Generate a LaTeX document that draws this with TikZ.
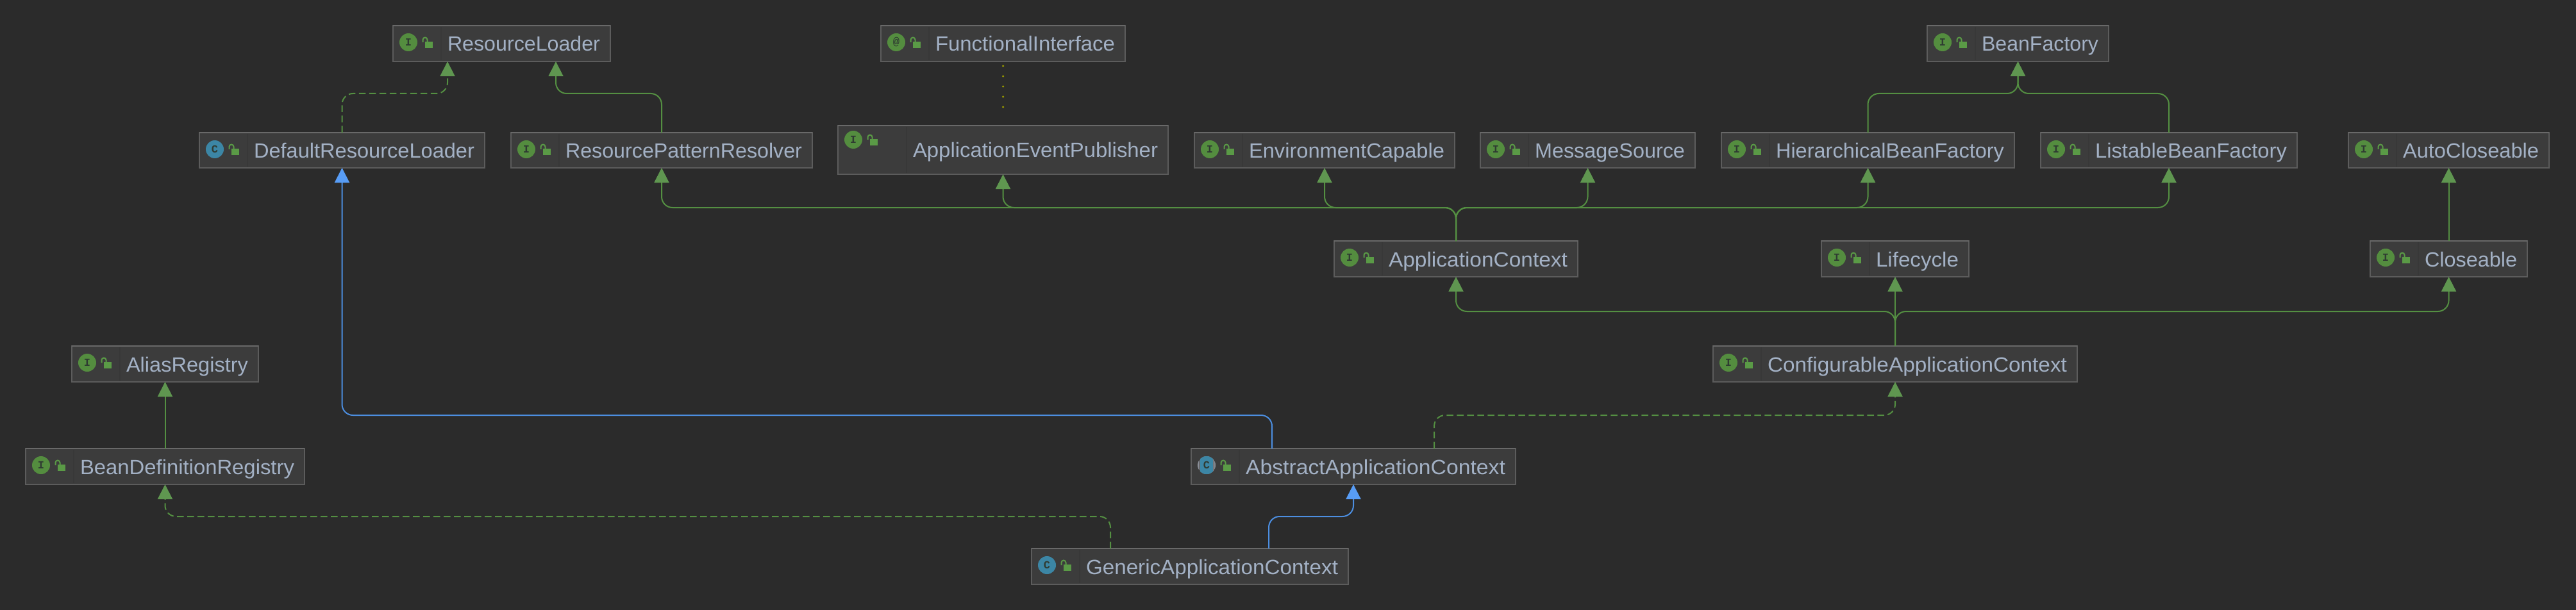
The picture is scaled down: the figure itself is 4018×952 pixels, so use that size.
\documentclass[tikz,border=0pt]{standalone}
\usepackage{graphicx}
\usepackage{fontspec}
\setmainfont{Liberation Sans}
\newfontfamily\iconfont{Liberation Mono}
\usetikzlibrary{arrows.meta,calc}
\definecolor{bgc}{HTML}{2B2B2B}
\definecolor{boxfill}{HTML}{3C3C3C}
\definecolor{boxline}{HTML}{5C5C5C}
\definecolor{boxtop}{HTML}{696969}
\definecolor{divc}{HTML}{383838}
\definecolor{labelc}{HTML}{A3B1C5}
\definecolor{greenline}{HTML}{548F42}
\definecolor{greentip}{HTML}{5F9650}
\definecolor{blueline}{HTML}{4C8EE0}
\definecolor{bluetip}{HTML}{589DF6}
\definecolor{dotc}{HTML}{9A9A00}
\definecolor{icongreen}{HTML}{548D3F}
\definecolor{iconteal}{HTML}{3C86A5}
\definecolor{icongrey}{HTML}{8B9099}
\definecolor{iconink}{HTML}{2F3B32}
\definecolor{lockc}{HTML}{5A9A46}
\tikzset{
  x=1pt,y=-1pt,
  clsbox/.style={draw=boxline,fill=boxfill,line width=1.5pt,inner sep=0pt,outer sep=0pt,
    text=labelc,font=\fontsize{32.2pt}{36pt}\selectfont,text height=24pt,text depth=0pt},
  topedge/.style={draw=boxtop,line width=2.5pt},
  divider/.style={draw=divc,line width=1.5pt},
  iconmark/.style={circle,inner sep=0pt,minimum size=28pt,outer sep=0pt,
    text=iconink,font=\iconfont\bfseries\fontsize{17pt}{17pt}\selectfont},
  lockshackle/.style={draw=lockc,line width=2pt},
  conn/.style={line width=2pt,rounded corners=17pt},
  inhg/.style={conn,draw=greenline,-{Triangle[length=23pt,width=23pt,color=greentip]}},
  implg/.style={inhg,dash pattern=on 10.5pt off 5.5pt},
  inhb/.style={conn,draw=blueline,-{Triangle[length=23pt,width=23pt,color=bluetip]}},
  annot/.style={draw=dotc,line width=3.5pt,line cap=round,dash pattern=on 0pt off 16pt},
}
% #1 name, #2 kind (I,C,A,@), #3 left, #4 top, #5 right, #6 bottom, #7 text, #8 divider offset, #9 icon centre offset from top
\newcommand{\clsnode}[9]{%
  \pgfmathsetmacro{\boxW}{#5-#3}%
  \pgfmathsetmacro{\boxH}{#6-#4}%
  \pgfmathsetmacro{\boxCx}{(#3+#5)/2}%
  \pgfmathsetmacro{\boxCy}{(#4+#6)/2}%
  \pgfmathsetmacro{\textX}{#8+10}%
  \pgfmathsetmacro{\textW}{#5-#3-#8-10-16}%
  \pgfmathsetmacro{\iconX}{#3+24}%
  \pgfmathsetmacro{\iconY}{#4+#9}%
  \pgfmathsetmacro{\divX}{#3+#8}%
  \node[clsbox,minimum width=\boxW pt,minimum height=\boxH pt] (#1) at (\boxCx,\boxCy)
    {\makebox[\boxW pt][l]{\hspace*{\textX pt}\resizebox{\textW pt}{\height}{#7}}};
  \draw[divider] (\divX,#4+2) -- (\divX,#6-2);
  \draw[topedge] (#1.north west) -- (#1.north east);
  \ifx#2A
    \fill[icongrey] (\iconX,\iconY) circle[radius=14];
    \begin{scope}
      \clip (\iconX,\iconY) circle[radius=14];
      \fill[iconteal] (\iconX-10,\iconY-14) rectangle (\iconX+10,\iconY+14);
      \draw[draw=boxfill,line width=1pt] (\iconX-11,\iconY-14) -- (\iconX-11,\iconY+14) (\iconX+11,\iconY-14) -- (\iconX+11,\iconY+14);
    \end{scope}
    \node[iconmark,text=iconink] (#1-icon) at (\iconX,\iconY) {C};
  \else\ifx#2C
    \node[iconmark,fill=iconteal] (#1-icon) at (\iconX,\iconY) {C};
  \else
    \node[iconmark,fill=icongreen] (#1-icon) at (\iconX,\iconY) {#2};
  \fi\fi
  \fill[lockc] (#3+50,\iconY-1) rectangle (#3+62,\iconY+9);
  \draw[lockshackle] (#3+46.5,\iconY) -- (#3+46.5,\iconY-4) arc[start angle=180,end angle=360,radius=3.5] -- (#3+53.5,\iconY-1);
}
\begin{document}
\begin{tikzpicture}
\useasboundingbox (0,0) rectangle (4018,952);
\fill[bgc] (0,0) rectangle (4018,952);

\clsnode{rl}{I}{613}{40}{952}{96}{ResourceLoader}{75}{26}
\clsnode{fi}{@}{1374}{40}{1755}{96}{FunctionalInterface}{75}{26}
\clsnode{bf}{I}{3006}{40}{3289}{96}{BeanFactory}{75}{26}
\clsnode{drl}{C}{311}{207}{756}{262}{DefaultResourceLoader}{75}{26}
\clsnode{rpr}{I}{797}{207}{1267}{262}{ResourcePatternResolver}{75}{26}
\clsnode{aep}{I}{1307}{196}{1822}{272}{ApplicationEventPublisher}{107}{22}
\clsnode{ec}{I}{1863}{207}{2269}{262}{EnvironmentCapable}{75}{26}
\clsnode{ms}{I}{2309}{207}{2644}{262}{MessageSource}{75}{26}
\clsnode{hbf}{I}{2685}{207}{3142}{262}{HierarchicalBeanFactory}{75}{26}
\clsnode{lbf}{I}{3183}{207}{3583}{262}{ListableBeanFactory}{75}{26}
\clsnode{ac}{I}{3663}{207}{3976}{262}{AutoCloseable}{75}{26}
\clsnode{actx}{I}{2081}{376}{2461}{432}{ApplicationContext}{75}{26}
\clsnode{lc}{I}{2841}{376}{3071}{432}{Lifecycle}{75}{26}
\clsnode{cl}{I}{3697}{376}{3942}{432}{Closeable}{75}{26}
\clsnode{ar}{I}{112}{540}{403}{596}{AliasRegistry}{75}{26}
\clsnode{cac}{I}{2672}{540}{3240}{596}{ConfigurableApplicationContext}{75}{26}
\clsnode{bdr}{I}{40}{700}{475}{756}{BeanDefinitionRegistry}{75}{26}
\clsnode{aac}{A}{1858}{700}{2364}{756}{AbstractApplicationContext}{75}{26}
\clsnode{gac}{C}{1609}{856}{2103}{912}{GenericApplicationContext}{75}{26}

% annotation
\draw[annot] ([yshift=-7pt]fi.south) -- ([yshift=13pt]aep.north);

% ResourceLoader
\draw[implg] (drl.north) -- ++(0,-61) -| ([xshift=-84.5pt]rl.south);
\draw[inhg] (rpr.north) -- ++(0,-61) -| ([xshift=84.5pt]rl.south);
% BeanFactory
\draw[inhg] (hbf.north) -- ++(0,-61) -| (bf.south);
\draw[inhg] (lbf.north) -- ++(0,-61) -| (bf.south);
% ApplicationContext parents
\draw[inhg] (actx.north) -- ++(0,-52) -| (rpr.south);
\draw[inhg] (actx.north) -- ++(0,-52) -| (aep.south);
\draw[inhg] (actx.north) -- ++(0,-52) -| (ec.south);
\draw[inhg] (actx.north) -- ++(0,-52) -| (ms.south);
\draw[inhg] (actx.north) -- ++(0,-52) -| (hbf.south);
\draw[inhg] (actx.north) -- ++(0,-52) -| (lbf.south);
% Closeable
\draw[inhg] (cl.north) -- (ac.south);
% ConfigurableApplicationContext parents
\draw[inhg] (cac.north) -- ++(0,-54) -| (actx.south);
\draw[inhg] (cac.north) -- (lc.south);
\draw[inhg] (cac.north) -- ++(0,-54) -| (cl.south);
% AbstractApplicationContext
\draw[inhb] ([xshift=-127pt]aac.north) -- ++(0,-52) -| (drl.south);
\draw[implg] ([xshift=126pt]aac.north) -- ++(0,-52) -| (cac.south);
% Generic
\draw[inhb] ([xshift=123pt]gac.north) -- ++(0,-50) -| (aac.south);
\draw[implg] ([xshift=-124pt]gac.north) -- ++(0,-50) -| (bdr.south);
% Alias
\draw[inhg] (bdr.north) -- (ar.south);
\end{tikzpicture}
\end{document}
